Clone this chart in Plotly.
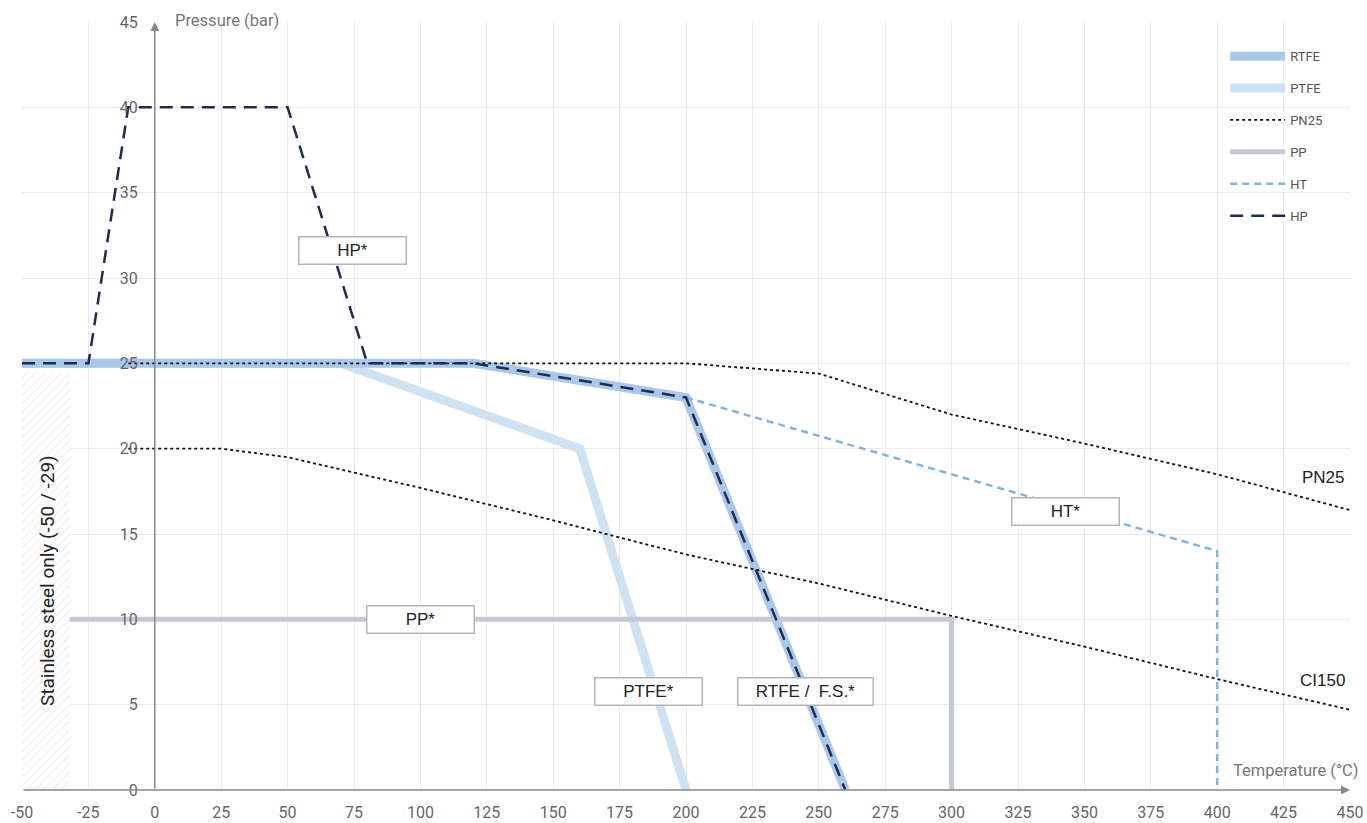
import plotly.graph_objects as go

# ---------------- data ----------------
x_ticks = [-50, -25, 0, 25, 50, 75, 100, 125, 150, 175, 200, 225, 250, 275, 300, 325, 350, 375, 400, 425, 450]
x_tick_labels = [str(v) for v in x_ticks]
y_ticks = [0, 5, 10, 15, 20, 25, 30, 35, 40, 45]
y_tick_labels = [str(v) for v in y_ticks]

rtfe_x = [-50, 120, 200, 260]
rtfe_y = [25, 25, 23, 0]

ptfe_x = [-50, 70, 160, 200]
ptfe_y = [25, 25, 20, 0]

pn25_x = [-10, 200, 250, 300, 350, 400, 450]
pn25_y = [25, 25, 24.4, 22.0, 20.3, 18.5, 16.4]

ci150_x = [-10, 25, 50, 100, 150, 200, 250, 300, 350, 400, 450]
ci150_y = [20, 20, 19.5, 17.7, 15.8, 13.8, 12.1, 10.2, 8.4, 6.5, 4.7]

pp_x = [-32, 300, 300]
pp_y = [10, 10, 0]

ht_x = [200, 400, 400]
ht_y = [23, 14, 0]

hp_x = [-50, -25, -10, 50, 80, 120, 200, 260]
hp_y = [25, 25, 40, 40, 25, 25, 23, 0]

hatch_x = [-50, -32, -32, -50, -50]
hatch_y = [0, 0, 24.5, 24.5, 0]

box_labels = ["HP*", "PP*", "PTFE*", "RTFE /  F.S.*", "HT*"]
box_x = [74.5, 100, 186, 245, 343]
box_y = [31.6, 10.0, 5.75, 5.8, 16.3]

# ---------------- figure ----------------
fig = go.Figure()

fig.add_trace(go.Scatter(x=hatch_x, y=hatch_y, fill="toself", mode="lines",
                         line=dict(width=0), fillcolor="rgba(255,255,255,0)",
                         fillpattern=dict(shape="/", fgcolor="#c8c8c8", bgcolor="white",
                                          size=6, solidity=0.15),
                         showlegend=False, hoverinfo="skip"))

fig.add_trace(go.Scatter(x=ptfe_x, y=ptfe_y, mode="lines", name="PTFE",
                         line=dict(color="#cfe2f2", width=9), legendrank=2, legendgroup="b"))
fig.add_trace(go.Scatter(x=rtfe_x, y=rtfe_y, mode="lines", name="RTFE",
                         line=dict(color="#a8c9e9", width=9), legendrank=1, legendgroup="a"))
fig.add_trace(go.Scatter(x=pp_x, y=pp_y, mode="lines", name="PP",
                         line=dict(color="#c5c8d6", width=5), legendrank=4, legendgroup="d"))
fig.add_trace(go.Scatter(x=pn25_x, y=pn25_y, mode="lines", name="PN25",
                         line=dict(color="#111111", width=1.8, dash="dot"), legendrank=3, legendgroup="c"))
fig.add_trace(go.Scatter(x=ci150_x, y=ci150_y, mode="lines", name="CI150",
                         line=dict(color="#111111", width=1.8, dash="dot"), showlegend=False))
fig.add_trace(go.Scatter(x=ht_x, y=ht_y, mode="lines", name="HT",
                         line=dict(color="#7db5e0", width=2.5, dash="7px,5px"), legendrank=5, legendgroup="e"))
fig.add_trace(go.Scatter(x=hp_x, y=hp_y, mode="lines", name="HP",
                         line=dict(color="#1f2a56", width=2.5, dash="13px,8px"), legendrank=6, legendgroup="f"))

annotations = []
for t, bx, by in zip(box_labels, box_x, box_y):
    annotations.append(dict(x=bx, y=by, xref="x", yref="y", text=t, showarrow=False,
                            font=dict(family="Liberation Sans, Arial", size=17, color="#222222"),
                            bgcolor="white", bordercolor="#b5b5b5", borderwidth=1.5,
                            width=104 if len(t) < 8 else 132, height=24))

annotations += [
    dict(x=449, y=18.3, xref="x", yref="y", text="PN25", showarrow=False, xanchor="right",
         font=dict(family="Liberation Sans, Arial", size=17, color="#222222")),
    dict(x=449, y=6.4, xref="x", yref="y", text="CI150", showarrow=False, xanchor="right",
         font=dict(family="Liberation Sans, Arial", size=17, color="#222222")),
    dict(x=0.1137, y=1.0026, xref="paper", yref="paper", text="Pressure (bar)", showarrow=False,
         xanchor="left", yanchor="middle", font=dict(family="Roboto", size=16.5, color="#777777")),
    dict(x=1.0075, y=0.026, xref="paper", yref="paper", text="Temperature (°C)", showarrow=False,
         xanchor="right", yanchor="middle", font=dict(family="Roboto", size=16.5, color="#777777")),
    dict(x=-40.6, y=12.3, xref="x", yref="y", text="Stainless steel only (-50 / -29)", showarrow=False,
         textangle=-90, font=dict(family="Roboto", size=19, color="#222222")),
    # axis arrows
    dict(x=0, y=45, ax=0, ay=0, xref="x", yref="y", axref="x", ayref="y", text="", showarrow=True,
         arrowhead=2, arrowsize=1.2, arrowwidth=1.5, arrowcolor="#888888"),
    dict(x=450, y=0, ax=-50, ay=0, xref="x", yref="y", axref="x", ayref="y", text="", showarrow=True,
         arrowhead=2, arrowsize=1.2, arrowwidth=1.5, arrowcolor="#888888"),
]

fig.update_layout(
    width=1367, height=823,
    margin=dict(l=22, r=17, t=22, b=33, autoexpand=False),
    paper_bgcolor="white", plot_bgcolor="white",
    font=dict(family="Roboto", color="#555555"),
    annotations=annotations,
    legend=dict(x=0.906, y=0.975, xanchor="left", yanchor="top", bgcolor="rgba(255,255,255,0)",
                font=dict(family="Roboto", size=13, color="#555555"),
                traceorder="grouped", tracegroupgap=12, itemwidth=55),
    xaxis=dict(range=[-50, 450], tickvals=x_ticks, ticktext=x_tick_labels, automargin=False,
               showgrid=True, gridcolor="#ebebeb", gridwidth=1, zeroline=False, showline=False,
               ticks="", tickfont=dict(family="Roboto", size=16, color="#666666"),
               ticklabelstandoff=11, ticklabeloverflow="allow"),
    yaxis=dict(range=[0, 45], tickvals=y_ticks, ticktext=y_tick_labels, anchor="free", position=0.1,
               automargin=False,
               showgrid=True, gridcolor="#ebebeb", gridwidth=1, zeroline=False, showline=False,
               ticks="", tickfont=dict(family="Roboto", size=16, color="#666666"),
               ticklabelstandoff=17, ticklabeloverflow="allow"),
)

fig.write_html("out.html", config={"displayModeBar": False},
               post_script="document.body.style.margin='0';document.body.style.overflow='hidden';")
